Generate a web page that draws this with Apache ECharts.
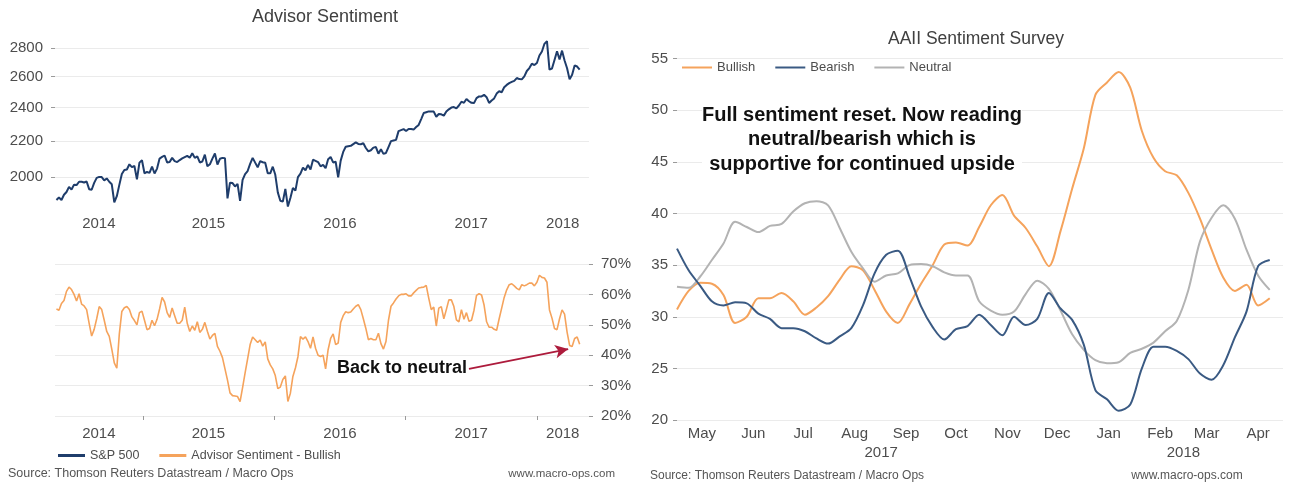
<!DOCTYPE html>
<html>
<head>
<meta charset="utf-8">
<script src="https://cdn.jsdelivr.net/npm/echarts@6/dist/echarts.min.js"></script>
<style>
  html, body { margin: 0; padding: 0; background: #fff; }
  #c { width: 1289px; height: 484px; }
</style>
</head>
<body>
<div id="c"></div>
<script>
const FONT = '"Liberation Sans", Arial, Helvetica, sans-serif';

// S&P 500, weekly (Monday) closes starting 2014-05-05
const spx = [
  // 2014
  1885, 1897, 1885, 1911, 1925, 1951, 1937, 1962, 1960, 1977, 1977, 1973, 1978, 1939, 1936, 1971, 1997, 2002,
  2001, 1984, 1994, 1977, 1964, 1874, 1904, 1961, 2017, 2038, 2041, 2069, 2054, 2060, 1989, 2078, 2091,
  // 2015
  2021, 2028, 2023, 2057, 2020, 2046, 2100, 2109, 2117, 2079, 2081, 2104, 2086, 2081, 2092, 2101, 2108, 2115,
  2105, 2130, 2104, 2112, 2079, 2084, 2122, 2058, 2069, 2100, 2128, 2068, 2099, 2104, 2102, 1893, 1972, 1970,
  1953, 1966, 1881, 1987, 2017, 2033, 2071, 2104, 2078, 2053, 2086, 2080, 2077, 2021, 2021, 2056,
  // 2016
  2013, 1923, 1881, 1877, 1940, 1853, 1895, 1945, 1932, 2001, 2019, 2051, 2037, 2066, 2041, 2094, 2088, 2081,
  2058, 2066, 2048, 2097, 2109, 2079, 2083, 2000, 2089, 2137, 2166, 2169, 2171, 2181, 2191, 2182, 2180, 2186,
  2159, 2140, 2146, 2161, 2164, 2127, 2152, 2126, 2131, 2164, 2198, 2202, 2205, 2256, 2262, 2268,
  // 2017
  2257, 2269, 2268, 2265, 2280, 2293, 2328, 2365, 2370, 2375, 2374, 2374, 2342, 2359, 2357, 2349, 2374, 2388,
  2399, 2402, 2394, 2412, 2436, 2429, 2453, 2439, 2429, 2427, 2459, 2470, 2470, 2480, 2465, 2428, 2444, 2457,
  2488, 2503, 2497, 2529, 2545, 2557, 2565, 2572, 2591, 2584, 2582, 2602, 2639, 2659, 2690, 2680,
  // 2018
  2695, 2748, 2777, 2833, 2853, 2649, 2656, 2716, 2779, 2720, 2783, 2712, 2658, 2582, 2613, 2678, 2670, 2648
];

// Advisor sentiment, % bullish, same weekly dates as spx
const advisorBull = [
  55.2, 54.8, 57.0, 58.0, 61.0, 62.4, 61.6, 60.0, 57.8, 60.2,
  56.8, 56.2, 55.0, 50.5, 46.3, 48.5, 52.0, 56.0, 55.0, 51.5,
  47.8, 46.2, 42.0, 37.5, 35.7, 47.0, 54.4, 55.6, 56.0, 55.0,
  52.6, 51.4, 50.0, 54.0, 54.5, 51.5, 48.4, 48.8, 51.5, 49.7,
  51.8, 55.2, 59.0, 57.5, 54.0, 52.4, 55.5, 53.0, 50.5, 50.5,
  51.5, 55.8, 50.5, 47.8, 49.6, 48.2, 51.0, 47.5, 48.5, 50.8,
  47.9, 45.3, 46.5, 47.2, 42.9, 41.3, 39.2, 35.5, 31.8, 27.6,
  26.7, 26.6, 26.4, 24.7, 29.3, 34.2, 38.8, 43.5, 46.0, 45.1,
  44.2, 45.0, 43.0, 44.4, 38.8, 36.8, 35.5, 33.3, 29.0, 29.5,
  32.0, 33.2, 24.8, 27.5, 33.0, 35.8, 39.5, 46.1, 45.3, 46.0,
  44.5, 42.3, 46.0, 42.3, 40.0, 39.6, 40.0, 35.5, 41.8, 45.5,
  47.0, 43.5, 44.0, 50.8, 53.0, 54.3, 54.0, 54.2, 55.2, 56.1,
  56.6, 55.0, 52.0, 48.8, 45.1, 45.5, 45.1, 45.1, 47.2, 43.8,
  42.0, 44.5, 51.5, 56.1, 57.2, 58.5, 59.5, 60.0, 60.0, 60.2,
  59.5, 59.5, 60.5, 61.3, 62.1, 62.3, 62.4, 63.0, 58.8, 55.0,
  55.8, 49.6, 55.5, 56.0, 52.0, 55.0, 58.2, 58.2, 56.0, 51.6,
  51.0, 55.0, 51.8, 54.0, 51.2, 51.5, 54.8, 59.7, 60.2, 59.8,
  56.5, 51.0, 49.2, 49.2, 48.5, 48.2, 52.0, 55.5, 59.0, 61.5,
  63.2, 63.5, 62.8, 62.0, 61.5, 63.2, 62.8, 63.2, 63.7, 63.7,
  62.8, 64.0, 66.3, 65.6, 65.4, 64.0, 54.9, 52.2, 48.8, 48.4,
  52.0, 54.9, 53.5, 47.6, 43.2, 42.9, 45.5, 46.0, 43.6
];

// AAII survey readings (%), weekly starting 2017-05-01
const bullish = [
  30.7, 32.5, 33.3, 33.2, 32.1, 29.4, 30.0, 31.8, 31.8, 32.3,
  31.5, 30.2, 30.9, 32.0, 33.6, 34.9, 34.5, 32.6, 30.5, 29.4,
  31.2, 33.2, 35.0, 37.0, 37.2, 36.9, 38.7, 40.8, 41.8, 39.8,
  38.6, 36.8, 34.9, 38.3, 42.4, 46.3, 51.5, 52.7, 53.7, 52.2,
  48.0, 45.4, 44.1, 43.7, 42.0, 39.5, 36.5, 33.8, 32.5, 33.1,
  31.1, 31.8
];
const bearish = [
  36.6, 34.5, 33.0, 31.5, 31.1, 31.4, 31.3, 30.3, 29.8, 28.9,
  28.9, 28.6, 27.9, 27.4, 28.1, 28.9, 31.1, 34.2, 36.0, 36.4,
  33.9, 31.0, 29.0, 27.8, 28.8, 29.1, 30.2, 29.2, 28.2, 30.0,
  29.2, 29.8, 32.3, 30.8, 29.7, 27.3, 22.9, 22.0, 20.9, 21.5,
  25.0, 27.1, 27.1, 26.7, 25.9, 24.5, 23.9, 25.3, 28.0, 30.5,
  34.9, 35.5
];
const neutral = [
  32.9, 32.8, 33.9, 35.5, 37.1, 39.2, 38.7, 38.2, 38.8, 39.0,
  40.2, 41.0, 41.2, 40.8, 38.6, 36.3, 34.7, 33.4, 34.0, 34.2,
  35.0, 35.1, 34.9, 34.3, 34.0, 34.0, 31.5, 30.6, 30.2, 30.5,
  32.2, 33.5, 32.7, 30.6, 28.3, 26.8, 25.8, 25.5, 25.6, 26.5,
  26.9, 27.5, 28.6, 29.6, 32.6, 37.3, 39.6, 40.8, 39.5, 36.5,
  34.0, 32.6
];

// Axis tick values
const spxTicks = [2000, 2200, 2400, 2600, 2800];
const monthNames = ['Jan', 'Feb', 'Mar', 'Apr', 'May', 'Jun', 'Jul', 'Aug', 'Sep', 'Oct', 'Nov', 'Dec'];

const day = (y, m, d) => new Date(y, m - 1, d).getTime();
function weekly(y, m, d, n) {
  const out = [];
  for (let i = 0; i < n; i++) out.push(new Date(y, m - 1, d + 7 * i).getTime());
  return out;
}

const spxDates = weekly(2014, 5, 5, spx.length);
const aaiiDates = weekly(2017, 5, 1, bullish.length);
const pairs = (dates, vals) => dates.map((t, i) => [t, vals[i]]);

// left panel time range and year label anchors
const leftMin = day(2014, 5, 1), leftMax = day(2018, 5, 26);
const yearStarts = [day(2015, 1, 1), day(2016, 1, 1), day(2017, 1, 1), day(2018, 1, 1)];
const yearMids = [day(2014, 8, 31), day(2015, 7, 2), day(2016, 7, 2), day(2017, 7, 2), day(2018, 3, 14)];
// right panel
const rightMin = day(2017, 5, 1), rightMax = day(2018, 5, 1);
const monthMids = [];
for (let k = 0; k < 12; k++) monthMids.push(new Date(2017, 4 + k, 16).getTime());
const rightYearMids = [day(2017, 9, 1), day(2018, 3, 2)];

const TXT = '#4d4d4d';
const GRID = '#ebebeb';
const TICK = '#9a9a9a';
const NAVY = '#1f3d6b';
const ORANGE = '#f5a35c';
const BLUE = '#3a5a83';
const GREY = '#b3b3b3';

const yearFmt = v => String(new Date(v).getFullYear());
const labelBase = { color: TXT, fontSize: 15, fontFamily: FONT };

const chart = echarts.init(document.getElementById('c'));
chart.setOption({
  animation: false,
  textStyle: { fontFamily: FONT },
  title: [
    { text: 'Advisor Sentiment', left: 325, top: 8, textAlign: 'center', padding: 0,
      textStyle: { fontSize: 18, fontWeight: 'normal', color: '#404040', fontFamily: FONT } },
    { text: 'AAII Sentiment Survey', left: 976, top: 30, textAlign: 'center', padding: 0,
      textStyle: { fontSize: 17.5, fontWeight: 'normal', color: '#404040', fontFamily: FONT } }
  ],
  legend: [
    { data: ['S&P 500', 'Advisor Sentiment - Bullish'], left: 58, top: 449, padding: 0,
      icon: 'rect', itemWidth: 27, itemHeight: 3, itemGap: 20,
      textStyle: { fontSize: 12.5, color: TXT, fontFamily: FONT } },
    { data: ['Bullish', 'Bearish', 'Neutral'], left: 682, top: 61, padding: 0,
      icon: 'rect', itemWidth: 30, itemHeight: 2, itemGap: 20,
      textStyle: { fontSize: 13, color: TXT, fontFamily: FONT } }
  ],
  grid: [
    { left: 55, width: 534, top: 34.85, height: 182.85 },
    { left: 55, width: 534, top: 264, height: 152 },
    { left: 677, right: 6, top: 58.7, height: 361.3 }
  ],
  xAxis: [
    { gridIndex: 0, type: 'value', min: leftMin, max: leftMax,
      axisLine: { show: false }, axisTick: { show: false }, splitLine: { show: false },
      axisLabel: Object.assign({ customValues: yearMids, formatter: yearFmt, margin: -1 }, labelBase) },
    { gridIndex: 1, type: 'value', min: leftMin, max: leftMax,
      axisLine: { show: false }, splitLine: { show: false },
      axisTick: { show: true, customValues: yearStarts, length: 4, lineStyle: { color: TICK } },
      axisLabel: Object.assign({ customValues: yearMids, formatter: yearFmt, margin: 10.5 }, labelBase) },
    { gridIndex: 2, type: 'value', min: rightMin, max: rightMax,
      axisLine: { show: false }, axisTick: { show: false }, splitLine: { show: false },
      axisLabel: Object.assign({ customValues: monthMids,
        formatter: v => monthNames[new Date(v).getMonth()], margin: 6 }, labelBase) },
    { gridIndex: 2, type: 'value', position: 'bottom', min: rightMin, max: rightMax,
      axisLine: { show: false }, axisTick: { show: false }, splitLine: { show: false },
      axisLabel: Object.assign({ customValues: rightYearMids, formatter: yearFmt, margin: 25 }, labelBase) }
  ],
  yAxis: [
    { gridIndex: 0, type: 'log', min: 1800, max: 2900, position: 'left',
      axisLine: { show: false },
      axisTick: { show: true, customValues: spxTicks, length: 4, lineStyle: { color: TICK } },
      axisLabel: Object.assign({ customValues: spxTicks, formatter: v => String(Math.round(v)), margin: 12 }, labelBase),
      splitLine: { show: true, lineStyle: { color: GRID, width: 1 } } },
    { gridIndex: 1, type: 'value', min: 20, max: 70, interval: 10, position: 'right',
      axisLine: { show: false },
      axisTick: { show: true, length: 4, lineStyle: { color: TICK } },
      axisLabel: Object.assign({ formatter: '{value}%', margin: 12 }, labelBase),
      splitLine: { show: true, lineStyle: { color: GRID, width: 1 } } },
    { gridIndex: 2, type: 'value', min: 20, max: 55, interval: 5, position: 'left',
      axisLine: { show: false },
      axisTick: { show: true, length: 4, lineStyle: { color: TICK } },
      axisLabel: Object.assign({ margin: 9 }, labelBase),
      splitLine: { show: true, lineStyle: { color: GRID, width: 1 } } }
  ],
  series: [
    { name: 'S&P 500', type: 'line', xAxisIndex: 0, yAxisIndex: 0,
      data: pairs(spxDates, spx), symbol: 'none',
      lineStyle: { color: NAVY, width: 2 }, itemStyle: { color: NAVY } },
    { name: 'Advisor Sentiment - Bullish', type: 'line', xAxisIndex: 1, yAxisIndex: 1,
      data: pairs(spxDates, advisorBull), symbol: 'none',
      lineStyle: { color: ORANGE, width: 1.6 }, itemStyle: { color: ORANGE },
      // callout arrow from the note to the latest readings
      markLine: {
        silent: true, symbol: ['none', 'arrow'], symbolSize: [10, 13],
        label: { show: false },
        lineStyle: { color: '#ad1b3c', width: 2, type: 'solid' },
        data: [[{ coord: [day(2017, 6, 26), 35.5] }, { coord: [day(2018, 3, 29), 42.0] }]]
      } },
    { name: 'Bullish', type: 'line', xAxisIndex: 2, yAxisIndex: 2,
      data: pairs(aaiiDates, bullish), symbol: 'none', smooth: 0.3,
      lineStyle: { color: ORANGE, width: 2 }, itemStyle: { color: ORANGE } },
    { name: 'Neutral', type: 'line', xAxisIndex: 2, yAxisIndex: 2,
      data: pairs(aaiiDates, neutral), symbol: 'none', smooth: 0.3,
      lineStyle: { color: GREY, width: 2 }, itemStyle: { color: GREY } },
    { name: 'Bearish', type: 'line', xAxisIndex: 2, yAxisIndex: 2,
      data: pairs(aaiiDates, bearish), symbol: 'none', smooth: 0.3,
      lineStyle: { color: BLUE, width: 2 }, itemStyle: { color: BLUE } }
  ],
  graphic: [
    { type: 'text', x: 402, y: 368, z: 100,
      style: { text: 'Back to neutral', font: 'bold 18px ' + FONT, fill: '#111',
        textAlign: 'center', textVerticalAlign: 'middle' } },
    // white backing so grid lines stop behind the note
    { type: 'text', x: 862, y: 103, z: 100,
      style: { text: 'Full sentiment reset. Now reading\nneutral/bearish which is\nsupportive for continued upside',
        font: 'bold 20px ' + FONT, fill: '#111', lineHeight: 24.5,
        backgroundColor: '#fff',
        textAlign: 'center', textVerticalAlign: 'top' } },
    { type: 'text', x: 8, y: 474,
      style: { text: 'Source: Thomson Reuters Datastream / Macro Ops', font: '12.5px ' + FONT,
        fill: '#555', textAlign: 'left', textVerticalAlign: 'middle' } },
    { type: 'text', x: 615, y: 474,
      style: { text: 'www.macro-ops.com', font: '11.5px ' + FONT,
        fill: '#555', textAlign: 'right', textVerticalAlign: 'middle' } },
    { type: 'text', x: 650, y: 476,
      style: { text: 'Source: Thomson Reuters Datastream / Macro Ops', font: '12px ' + FONT,
        fill: '#555', textAlign: 'left', textVerticalAlign: 'middle' } },
    { type: 'text', x: 1187, y: 476,
      style: { text: 'www.macro-ops.com', font: '12px ' + FONT,
        fill: '#555', textAlign: 'center', textVerticalAlign: 'middle' } }
  ]
});
</script>
</body>
</html>
